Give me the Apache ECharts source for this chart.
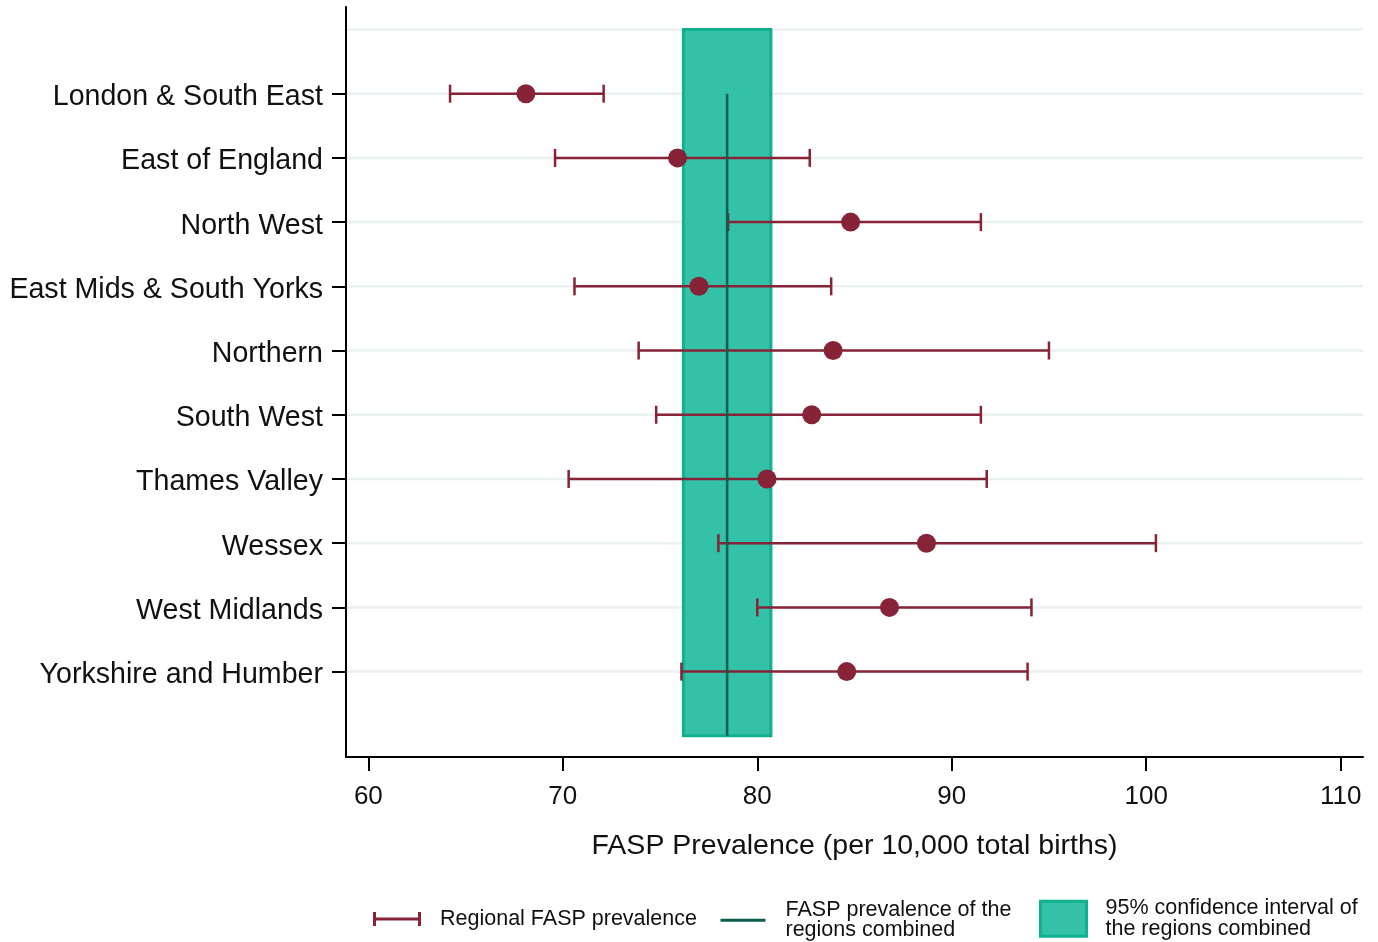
<!DOCTYPE html>
<html>
<head>
<meta charset="utf-8">
<script src="https://cdn.jsdelivr.net/npm/echarts@6/dist/echarts.min.js"></script>
<style>
html,body{margin:0;padding:0;background:#fff;}
#chart{width:1378px;height:942px;}
</style>
</head>
<body>
<div id="chart"></div>
<script>
// ---- data ----
var regions = ['London & South East','East of England','North West','East Mids & South Yorks','Northern','South West','Thames Valley','Wessex','West Midlands','Yorkshire and Humber'];
var estimate = [68.1, 75.9, 84.8, 77.0, 83.9, 82.8, 80.5, 88.7, 86.8, 84.6];
var ciLow    = [64.2, 69.6, 78.5, 70.6, 73.9, 74.8, 70.3, 78.0, 80.0, 76.1];
var ciHigh   = [72.1, 82.7, 91.5, 83.8, 95.0, 91.5, 91.8, 100.5, 94.1, 93.9];
var combinedEstimate = 78.45;
var combinedLow = 76.2;
var combinedHigh = 80.7;
var xTicks = [60, 70, 80, 90, 100, 110];
var gridRows = [0, 1, 2, 3, 4, 5, 6, 7, 8, 9, 10];
var labelRows = [1, 2, 3, 4, 5, 6, 7, 8, 9, 10];

var MAROON = '#862336';
var FILL = '#33c1a8';
var EDGE = '#12b08f';
var DARK = '#0c5d4d';
var FONT = "'Liberation Sans', Arial, sans-serif";

var errData = regions.map(function (r, i) { return [ciLow[i], ciHigh[i], i + 1]; });
var ptData = regions.map(function (r, i) { return [estimate[i], i + 1]; });

var chart = echarts.init(document.getElementById('chart'), null, {renderer: 'canvas'});

var legendNames = {
  'Regional FASP prevalence': 'Regional FASP prevalence',
  'FASP prevalence of the regions combined': 'FASP prevalence of the\nregions combined',
  '95% confidence interval of the regions combined': '95% confidence interval of\nthe regions combined'
};
function legendFmt(n) { return legendNames[n] || n; }
function legendText(gap) {
  return {fontSize: 21.5, lineHeight: 20.5, color: '#111', fontFamily: FONT, padding: [0, 0, 0, gap]};
}

var option = {
  animation: false,
  backgroundColor: '#fff',
  textStyle: {fontFamily: FONT},
  grid: {left: 346, right: 15, top: 7, bottom: 185, containLabel: false},
  xAxis: {
    type: 'value', min: 58.85, max: 111.15,
    name: 'FASP Prevalence (per 10,000 total births)',
    nameLocation: 'middle', nameGap: 75,
    nameTextStyle: {fontSize: 28.5, color: '#111', fontFamily: FONT},
    axisLine: {show: true, onZero: false, lineStyle: {color: '#000', width: 2}},
    axisTick: {show: true, length: 14, lineStyle: {color: '#000', width: 2}, customValues: xTicks},
    axisLabel: {fontSize: 26, color: '#111', margin: 27, customValues: xTicks, fontFamily: FONT},
    splitLine: {show: false}
  },
  yAxis: {
    type: 'value', inverse: true, min: -0.35, max: 11.33,
    axisLine: {show: true, onZero: false, lineStyle: {color: '#000', width: 2}},
    axisTick: {show: true, length: 14, lineStyle: {color: '#000', width: 2}, customValues: labelRows},
    axisLabel: {fontSize: 28.6, color: '#111', margin: 23, customValues: labelRows, fontFamily: FONT,
      rich: {a: {fontSize: 28.6, color: '#111', fontFamily: FONT, padding: [7, 0, 0, 0]}},
      formatter: function (v) { var n = regions[Math.round(v) - 1]; return n ? '{a|' + n + '}' : ''; }},
    splitLine: {show: false}
  },
  legend: [
    {left: 373, top: 908, padding: 0, itemGap: 0, itemWidth: 48, itemHeight: 14,
     textStyle: legendText(14), formatter: legendFmt,
     data: [{name: 'Regional FASP prevalence',
             icon: 'path://M0 0H3V5.5H45V0H48V14H45V8.5H3V14H0Z',
             itemStyle: {color: MAROON}}]},
    {left: 720.5, top: 899, padding: 0, itemGap: 0, itemWidth: 45, itemHeight: 3,
     textStyle: legendText(15), formatter: legendFmt,
     data: [{name: 'FASP prevalence of the regions combined', icon: 'rect', itemStyle: {color: DARK}}]},
    {left: 1039, top: 897.5, padding: 0, itemGap: 0, itemWidth: 46, itemHeight: 35,
     textStyle: legendText(14), formatter: legendFmt,
     data: [{name: '95% confidence interval of the regions combined', icon: 'rect',
             itemStyle: {color: FILL, borderColor: EDGE, borderWidth: 3}}]}
  ],
  series: [
    {
      type: 'custom', name: 'grid', z: 1, silent: true,
      data: gridRows.map(function (r) { return [r]; }),
      encode: {y: 0},
      renderItem: function (params, api) {
        var cs = params.coordSys;
        var y = api.coord([60, api.value(0)])[1];
        return {type: 'line', shape: {x1: cs.x + 1, y1: y, x2: cs.x + cs.width, y2: y},
                style: {stroke: '#ebf1f3', lineWidth: 2.5}};
      }
    },
    {
      type: 'custom', name: '95% confidence interval of the regions combined', z: 2,
      itemStyle: {color: FILL, borderColor: EDGE, borderWidth: 3},
      data: [[combinedLow, combinedHigh, 0, 11]],
      encode: {x: [0, 1], y: [2, 3]},
      renderItem: function (params, api) {
        var p1 = api.coord([api.value(0), api.value(2)]);
        var p2 = api.coord([api.value(1), api.value(3)]);
        return {type: 'rect',
                shape: {x: p1[0], y: Math.min(p1[1], p2[1]), width: p2[0] - p1[0], height: Math.abs(p2[1] - p1[1])},
                style: {fill: FILL, stroke: EDGE, lineWidth: 3}};
      }
    },
    {
      type: 'custom', name: 'Regional FASP prevalence', z: 3,
      itemStyle: {color: MAROON},
      data: errData,
      encode: {x: [0, 1], y: 2},
      renderItem: function (params, api) {
        var a = api.coord([api.value(0), api.value(2)]);
        var b = api.coord([api.value(1), api.value(2)]);
        var h = 9;
        var st = {stroke: MAROON, lineWidth: 2.5, fill: null};
        return {type: 'group', children: [
          {type: 'line', shape: {x1: a[0], y1: a[1], x2: b[0], y2: b[1]}, style: st},
          {type: 'line', shape: {x1: a[0], y1: a[1] - h, x2: a[0], y2: a[1] + h}, style: st},
          {type: 'line', shape: {x1: b[0], y1: b[1] - h, x2: b[0], y2: b[1] + h}, style: st}
        ]};
      }
    },
    {
      type: 'line', name: 'FASP prevalence of the regions combined', z: 4,
      data: [[combinedEstimate, 1], [combinedEstimate, 11]],
      symbol: 'none', lineStyle: {color: DARK, width: 2.5}, itemStyle: {color: DARK}
    },
    {
      type: 'scatter', name: 'Regional estimate', z: 5,
      data: ptData, symbol: 'circle', symbolSize: 19,
      itemStyle: {color: MAROON, opacity: 1}
    }
  ]
};
chart.setOption(option);
</script>
</body>
</html>
